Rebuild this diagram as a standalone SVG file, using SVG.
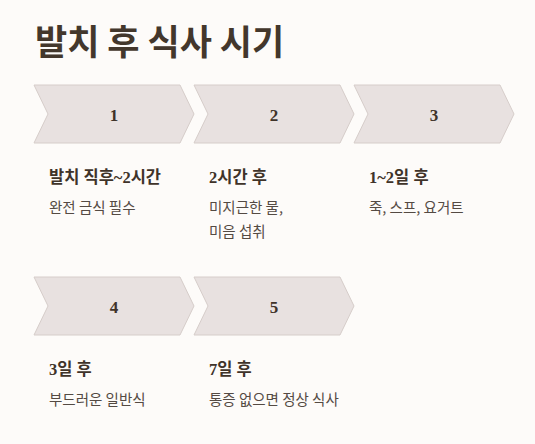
<svg xmlns="http://www.w3.org/2000/svg" width="535" height="444" viewBox="0 0 535 444">
<style>
.bg{fill:#fdfbf9}
.chev{fill:#e8e1e0;stroke:#d6cdca;stroke-width:1}
.title{font-family:"Noto Sans CJK KR","Noto Sans",sans-serif;font-weight:700;font-size:35px;fill:#43372c}
.num{font-family:"Liberation Serif","Noto Sans CJK KR",serif;font-weight:700;font-size:17px;fill:#3f3329;text-anchor:middle}
.head{font-family:"Liberation Serif","Noto Sans CJK KR",serif;font-weight:700;font-size:16.5px;fill:#3f3329}
.body{font-family:"Noto Sans CJK KR","Noto Sans",sans-serif;font-size:14.5px;fill:#544a43}
</style>
<defs>
<polygon id="chevron" class="chev" points="0,0 146,0 160,29 146,58 0,58 14,29"/>
</defs>
<rect class="bg" x="0" y="0" width="535" height="444"/>
<text class="title" x="35" y="54.5">발치 후 식사 시기</text>
<g id="connectors"></g>
<g id="step1">
<use href="#chevron" x="34" y="85"/>
<text class="num" x="114" y="120.5">1</text>
<text class="head" x="49" y="182.5">발치 직후~2시간</text>
<text class="body" x="49" y="213">완전 금식 필수</text>
</g>
<g id="step2">
<use href="#chevron" x="194" y="85"/>
<text class="num" x="274" y="120.5">2</text>
<text class="head" x="209" y="182.5">2시간 후</text>
<text class="body" x="209" y="213">미지근한 물,</text>
<text class="body" x="209" y="237">미음 섭취</text>
</g>
<g id="step3">
<use href="#chevron" x="354" y="85"/>
<text class="num" x="434" y="120.5">3</text>
<text class="head" x="369" y="182.5">1~2일 후</text>
<text class="body" x="369" y="213">죽, 스프, 요거트</text>
</g>
<g id="step4">
<use href="#chevron" x="34" y="277"/>
<text class="num" x="114" y="312.5">4</text>
<text class="head" x="49" y="374.5">3일 후</text>
<text class="body" x="49" y="405">부드러운 일반식</text>
</g>
<g id="step5">
<use href="#chevron" x="194" y="277"/>
<text class="num" x="274" y="312.5">5</text>
<text class="head" x="209" y="374.5">7일 후</text>
<text class="body" x="209" y="405">통증 없으면 정상 식사</text>
</g>
</svg>
